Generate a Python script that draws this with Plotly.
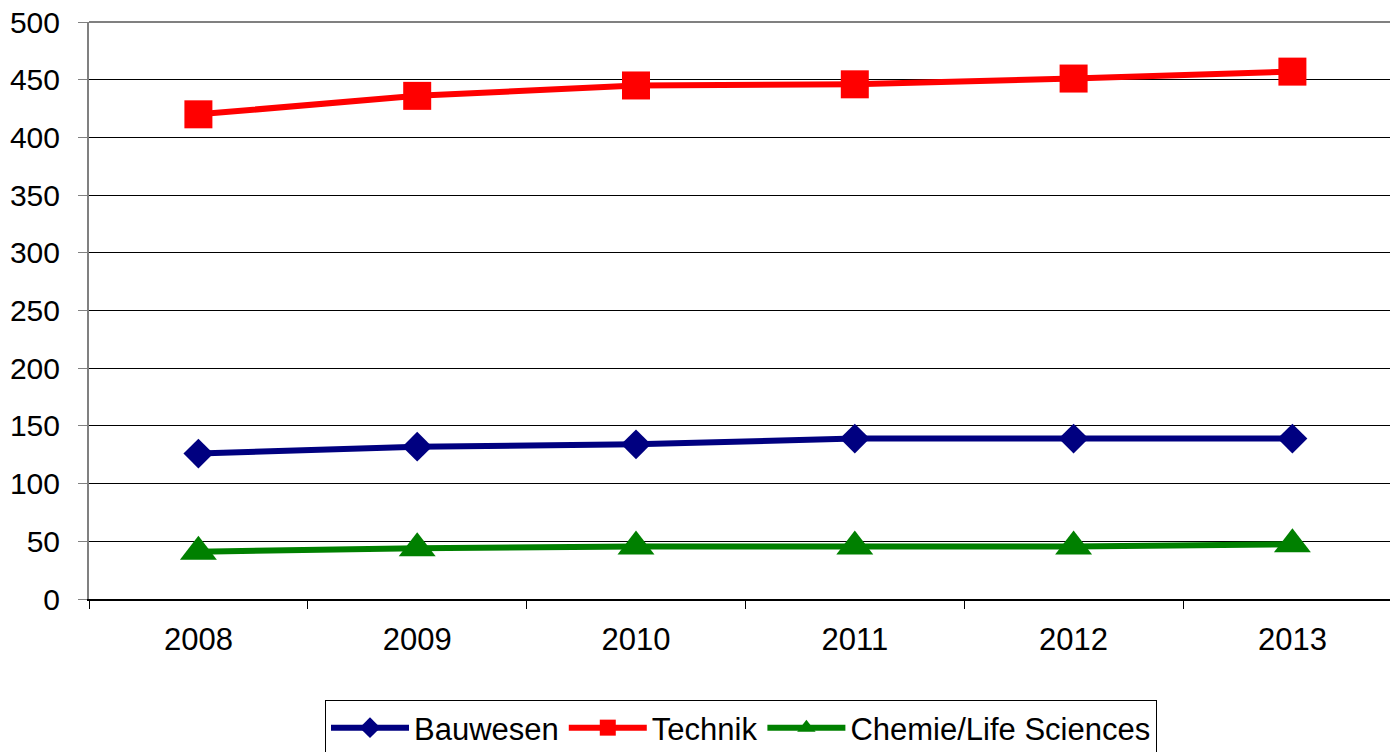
import plotly.graph_objects as go

years = ["2008", "2009", "2010", "2011", "2012", "2013"]
bauwesen = [126, 132, 134, 139, 139, 139]
technik = [420, 436, 445, 446, 451, 457]
chemie = [41, 44, 45.5, 45.5, 45.5, 47.5]

series = [
    ("Bauwesen", bauwesen, "#000080", "diamond", 23),
    ("Technik", technik, "#FF0000", "square", 28),
    ("Chemie/Life Sciences", chemie, "#008000", "triangle-up", 32),
]

fig = go.Figure()
for name, vals, color, sym, size in series:
    fig.add_trace(go.Scatter(
        x=years, y=vals, name=name, mode="lines+markers",
        line=dict(color=color, width=6),
        marker=dict(symbol=sym, size=size, color=color, line=dict(width=0)),
    ))

W, H = 1390, 752
L, T, B = 89, 22, 599
plot_w = W - L
cat_w = 218.8

fig.update_layout(
    width=W, height=H,
    margin=dict(l=L, r=0, t=T, b=H - B, autoexpand=False),
    paper_bgcolor="white", plot_bgcolor="white",
    font=dict(family="Liberation Sans, Arial, sans-serif", color="black"),
    showlegend=True,
    legend=dict(
        orientation="h", x=(325 - L) / plot_w, xanchor="left",
        y=(B - 700) / (B - T), yanchor="top",
        font=dict(size=31, color="black"),
        bordercolor="#000000", borderwidth=1, bgcolor="white",
        itemwidth=78, tracegroupgap=0,
    ),
    xaxis=dict(
        type="category", range=[-0.5, -0.5 + plot_w / cat_w],
        tickson="boundaries", ticks="outside", ticklen=8, tickcolor="black",
        showgrid=False, showline=True, linecolor="black", linewidth=2,
        tickfont=dict(size=31, color="black"), ticklabelstandoff=12,
        zeroline=False, automargin=False,
    ),
    yaxis=dict(
        range=[0, 500], tick0=0, dtick=50,
        ticks="outside", ticklen=9, tickcolor="#808080",
        showgrid=True, gridcolor="black", gridwidth=1,
        showline=True, linecolor="#808080", linewidth=2,
        tickfont=dict(size=30, color="black"), ticklabelstandoff=12,
        zeroline=False, automargin=False,
    ),
    shapes=[dict(type="line", xref="paper", yref="paper", x0=0, x1=1, y0=1, y1=1,
                 line=dict(color="#808080", width=2))],
)

fig.write_html(
    "out.html",
    config={"displayModeBar": False},
    post_script="document.body.style.margin='0';document.body.style.overflow='hidden';",
)
